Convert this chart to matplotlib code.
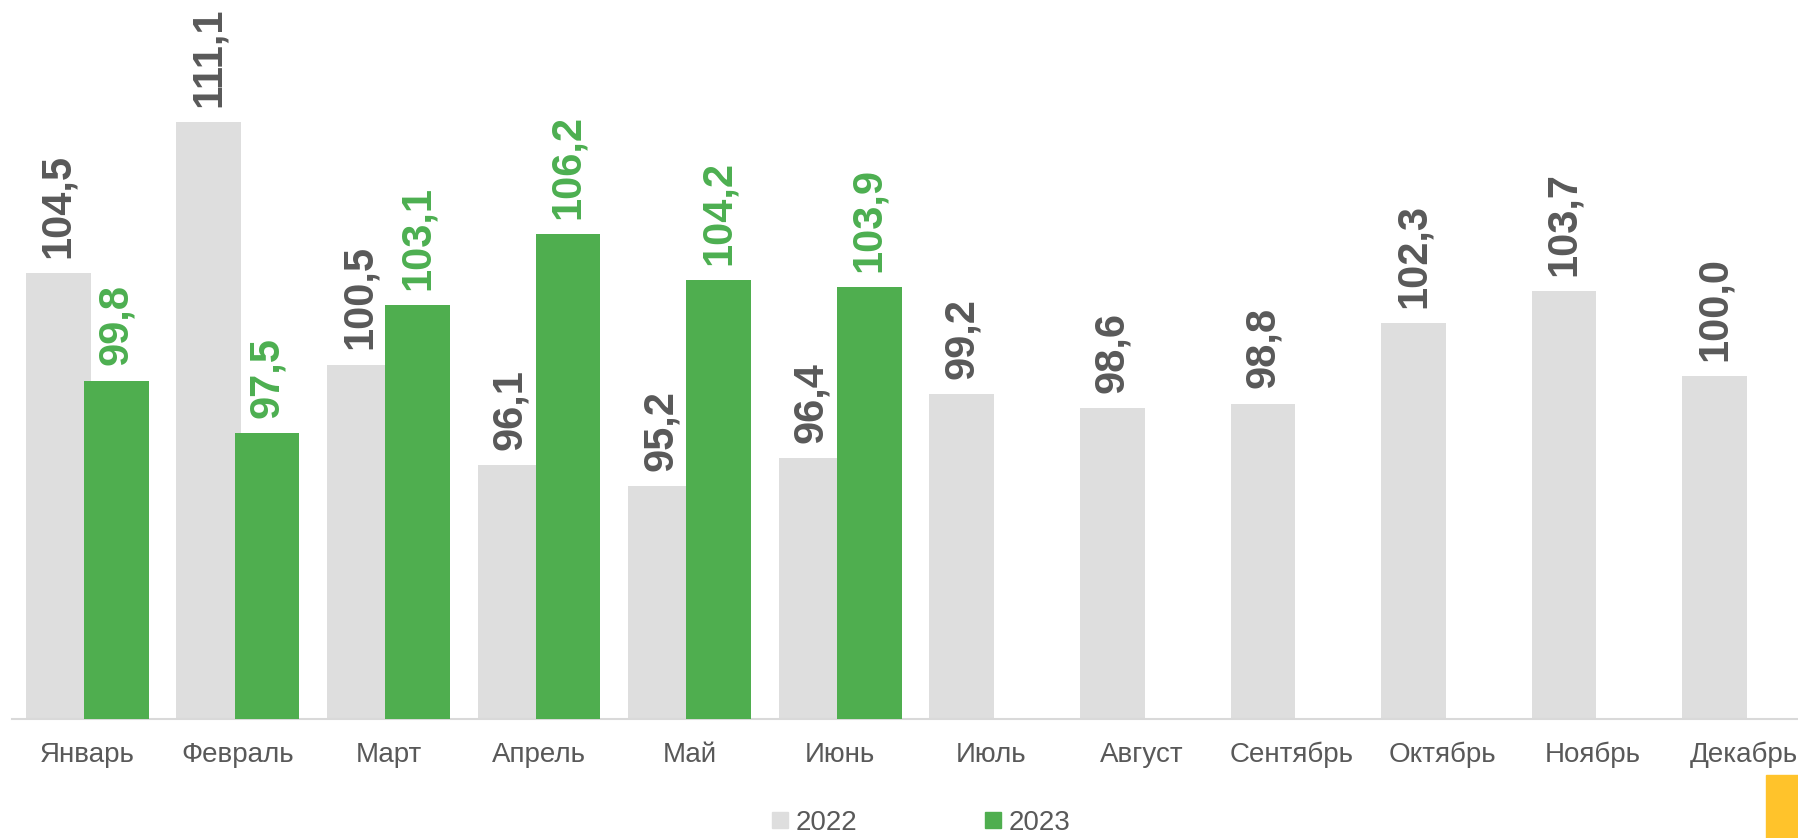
import matplotlib
matplotlib.use("Agg")
import matplotlib.pyplot as plt
from matplotlib.lines import Line2D
from matplotlib.patches import Rectangle
import numpy as np

plt.rcParams['font.family'] = ['Liberation Sans', 'DejaVu Sans']

months = ["Январь", "Февраль", "Март", "Апрель", "Май", "Июнь", "Июль",
          "Август", "Сентябрь", "Октябрь", "Ноябрь", "Декабрь"]
values_2022 = [104.5, 111.1, 100.5, 96.1, 95.2, 96.4, 99.2, 98.6, 98.8, 102.3, 103.7, 100.0]
values_2023 = [99.8, 97.5, 103.1, 106.2, 104.2, 103.9]
series_names = ["2022", "2023"]

c22 = "#dedede"
c23 = "#4fae4f"
lab22 = "#595959"
lab23 = "#4caf50"
ymin, ymax = 85, 116

W, H = 1798, 838
fig = plt.figure(figsize=(W / 100, H / 100), dpi=100)
ax_left = 12 / W
ax_w = (1819 - 12) / W
ax_bottom = 1 - 719.3 / H
ax_h = (ymax - ymin) * 22.88 / H
ax = fig.add_axes([ax_left, ax_bottom, ax_w, ax_h])

x = np.arange(len(months))
bw = 0.43
off = 0.193
x23 = x[:len(values_2023)]
b1 = ax.bar(x - off, np.array(values_2022) - ymin, bottom=ymin, width=bw, color=c22, zorder=2)
b2 = ax.bar(x23 + off, np.array(values_2023) - ymin, bottom=ymin, width=bw, color=c23, zorder=3)

def fmt(v):
    return f"{v:.1f}".replace(".", ",")

for xi, v in zip(x - off, values_2022):
    ax.annotate(fmt(v), (xi, v), xytext=(0, 11), textcoords="offset points",
                rotation=90, ha="center", va="bottom", fontsize=30,
                fontweight="bold", color=lab22, clip_on=False)
for xi, v in zip(x23 + off, values_2023):
    ax.annotate(fmt(v), (xi, v), xytext=(0, 11), textcoords="offset points",
                rotation=90, ha="center", va="bottom", fontsize=30,
                fontweight="bold", color=lab23, clip_on=False)

ax.set_xlim(-0.5, 11.5)
ax.set_ylim(ymin, ymax)
ax.set_xticks(x)
ax.set_xticklabels(months, fontsize=20, color=lab22)
ax.tick_params(axis="x", length=0, pad=16)
ax.set_yticks([])
for s in ["top", "right", "left"]:
    ax.spines[s].set_visible(False)
ax.spines["bottom"].set_color("#d9d9d9")
ax.spines["bottom"].set_linewidth(1.5)
ax.patch.set_alpha(0)

handles = [Line2D([], [], marker="s", linestyle="none", markersize=11, color=c22),
           Line2D([], [], marker="s", linestyle="none", markersize=11, color=c23)]
leg = fig.legend(handles, series_names, loc="center", bbox_to_anchor=(921 / W, 1 - 823 / H),
                 ncol=2, frameon=False, fontsize=20, handlelength=0.6, handletextpad=0.25,
                 columnspacing=4.6, labelcolor=lab22)

fig.patches.append(Rectangle((1766 / W, 0), (W - 1766) / W, (838 - 775) / H,
                             transform=fig.transFigure, color="#ffc32b", zorder=5))

fig.savefig("out.png", dpi=100)
